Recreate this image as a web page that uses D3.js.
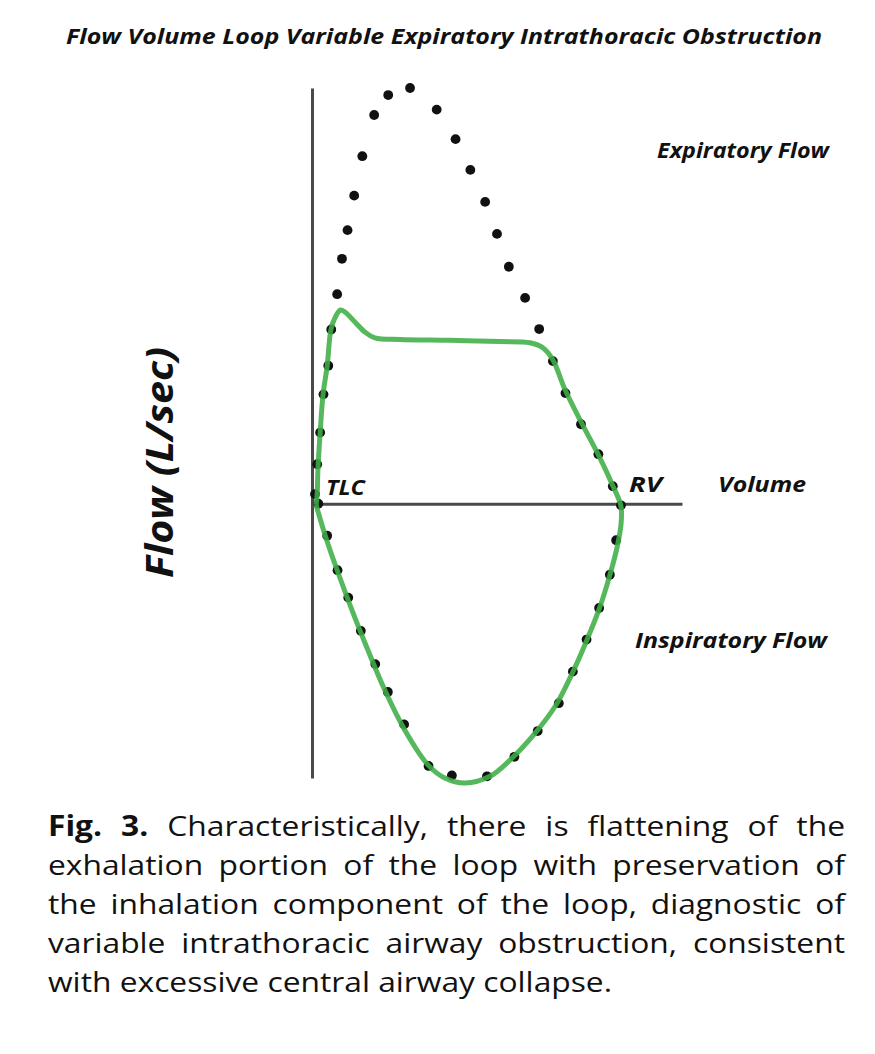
<!DOCTYPE html>
<html>
<head>
<meta charset="utf-8">
<script src="https://cdn.jsdelivr.net/npm/d3@7"></script>
<style>
  body { margin: 0; background: #fff; }
  svg { display: block; }
</style>
</head>
<body>
<script>
// Flow-volume loop, variable intrathoracic obstruction
const width = 875;
const height = 1054;

// normal loop (dotted), volume in arbitrary units from TLC, flow in L/sec
const normalVolume = [0.08, 0.14, 0.22, 0.31, 0.44, 0.52, 0.68, 0.81, 0.96, 1.14, 1.36, 1.68, 2.06, 2.65,
    3.37, 3.88, 4.28, 4.68, 5.0, 5.32, 5.76, 6.14, 6.51, 6.85, 7.27, 7.74, 8.13, 8.35,
    8.22, 8.05, 7.76, 7.42, 7.05, 6.67, 6.10, 5.47, 4.73, 3.78, 3.15, 2.49, 2.05, 1.71, 1.32, 0.98, 0.69, 0.41, 0.17];
const normalFlow = [0.23, 0.95, 1.71, 2.63, 3.32, 4.19, 5.04, 5.89, 6.58, 7.41, 8.36, 9.35, 9.83, 10.0,
    9.48, 8.77, 8.03, 7.26, 6.49, 5.70, 4.95, 4.20, 3.43, 2.66, 1.91, 1.19, 0.42, -0.04,
    -0.88, -1.71, -2.51, -3.27, -4.04, -4.80, -5.47, -6.09, -6.56, -6.54, -6.31, -5.31, -4.53, -3.86, -3.06, -2.26, -1.60, -0.77, 0.0];

// obstructed loop (green line)
const obstructedVolume = [0.11, 0.14, 0.16, 0.22, 0.30, 0.41, 0.51, 0.62, 0.77, 0.89, 1.16, 1.43, 1.70, 2.38, 3.73, 5.08, 5.89,
    6.24, 6.51, 6.84, 7.30, 7.73, 8.11, 8.35, 8.35, 8.24, 8.05, 7.78, 7.43, 7.05, 6.59, 6.03, 5.35, 4.81, 4.14,
    3.59, 3.14, 2.51, 1.97, 1.51, 1.08, 0.70, 0.38, 0.11];
const obstructedFlow = [-0.03, 0.23, 0.81, 1.70, 2.64, 3.31, 4.18, 4.47, 4.66, 4.61, 4.37, 4.13, 3.99, 3.95, 3.93, 3.90, 3.87,
    3.75, 3.46, 2.74, 1.92, 1.19, 0.47, -0.06, -0.51, -1.07, -1.72, -2.49, -3.28, -4.05, -4.85, -5.52, -6.17, -6.56, -6.72,
    -6.60, -6.29, -5.45, -4.49, -3.52, -2.56, -1.65, -0.83, -0.03];

const captionLines = [
    ["Fig. 3.", "Characteristically, there is flattening of the"],
    ["", "exhalation portion of the loop with preservation of"],
    ["", "the inhalation component of the loop, diagnostic of"],
    ["", "variable intrathoracic airway obstruction, consistent"],
    ["", "with excessive central airway collapse."]
];

const svg = d3.select("body").append("svg")
    .attr("width", width)
    .attr("height", height);

const x = d3.scaleLinear().domain([0, 10]).range([312, 682]);
const y = d3.scaleLinear().domain([-6.6, 10]).range([778, 88]);

// axes: bare lines, no ticks
svg.append("g")
    .attr("transform", `translate(${x(0)},0)`)
    .call(d3.axisLeft(y).tickValues([]).tickSizeOuter(0))
    .select(".domain")
    .attr("stroke", "#4a4a4a")
    .attr("stroke-width", 3);

svg.append("g")
    .attr("transform", `translate(0,${y(0)})`)
    .call(d3.axisBottom(x).tickValues([]).tickSizeOuter(0))
    .select(".domain")
    .attr("stroke", "#4a4a4a")
    .attr("stroke-width", 3);

// normal loop dots
svg.selectAll("circle.normal")
    .data(d3.zip(normalVolume, normalFlow))
    .enter()
    .append("circle")
    .attr("class", "normal")
    .attr("cx", d => x(d[0]))
    .attr("cy", d => y(d[1]))
    .attr("r", 4.9)
    .attr("fill", "#111");

// obstructed loop
const line = d3.line()
    .x(d => x(d[0]))
    .y(d => y(d[1]))
    .curve(d3.curveCatmullRom.alpha(0.5));

svg.append("path")
    .datum(d3.zip(obstructedVolume, obstructedFlow))
    .attr("d", line)
    .attr("fill", "none")
    .attr("stroke", "#3fae45")
    .attr("stroke-opacity", 0.88)
    .attr("stroke-width", 5)
    .attr("stroke-linejoin", "round");

// labels (stretched a little to the width of the original face)
const labelFont = "'Open Sans', 'Noto Sans', sans-serif";
function label(txt, px, py, size, len, anchor) {
    return svg.append("text")
        .attr("x", px)
        .attr("y", py)
        .attr("font-family", labelFont)
        .attr("font-weight", "bold")
        .attr("font-style", "italic")
        .attr("font-size", size)
        .attr("fill", "#111")
        .attr("text-anchor", anchor || "start")
        .attr("textLength", len)
        .attr("lengthAdjust", "spacingAndGlyphs")
        .text(txt);
}

label("Flow Volume Loop Variable Expiratory Intrathoracic Obstruction", 66, 44, 21.5, 756);
label("Expiratory Flow", 657, 158, 22, 172);
label("TLC", 326, 495, 22, 39);
label("RV", 629, 492, 22, 33);
label("Volume", 718, 492, 22, 88);
label("Inspiratory Flow", 635, 648, 22, 192);

svg.append("text")
    .attr("transform", "translate(173,578) rotate(-90)")
    .attr("font-family", labelFont)
    .attr("font-weight", "bold")
    .attr("font-style", "italic")
    .attr("font-size", 37)
    .attr("fill", "#111")
    .attr("textLength", 231)
    .attr("lengthAdjust", "spacingAndGlyphs")
    .text("Flow (L/sec)");

// caption, justified word by word
const capLeft = 48, capRight = 845, capTop = 836, capStep = 39, capSize = 28;
const lastLineWidth = 564;
const cap = svg.append("g")
    .attr("font-family", labelFont)
    .attr("font-size", capSize)
    .attr("fill", "#111");

// horizontal stretch so the unjustified last line spans as in the original
const probe = cap.append("text").text(captionLines[4][1]);
const sx = lastLineWidth / probe.node().getComputedTextLength();
probe.remove();

captionLines.forEach((ln, i) => {
    const words = [];
    ln[0].split(" ").filter(w => w).forEach(w => words.push({ w, bold: true }));
    ln[1].split(" ").filter(w => w).forEach(w => words.push({ w, bold: false }));
    const nodes = words.map(d => cap.append("text")
        .attr("y", capTop + i * capStep)
        .attr("font-weight", d.bold ? "bold" : "normal")
        .text(d.w));
    const widths = nodes.map(n => n.node().getComputedTextLength() * sx);
    nodes.forEach((n, j) => n.attr("textLength", widths[j]).attr("lengthAdjust", "spacingAndGlyphs"));
    const total = d3.sum(widths);
    const last = i === captionLines.length - 1;
    const gap = last ? capSize * 0.26 * sx : (capRight - capLeft - total) / (nodes.length - 1);
    let cx = capLeft;
    nodes.forEach((n, j) => {
        n.attr("x", cx);
        cx += widths[j] + gap;
    });
});
</script>
</body>
</html>
